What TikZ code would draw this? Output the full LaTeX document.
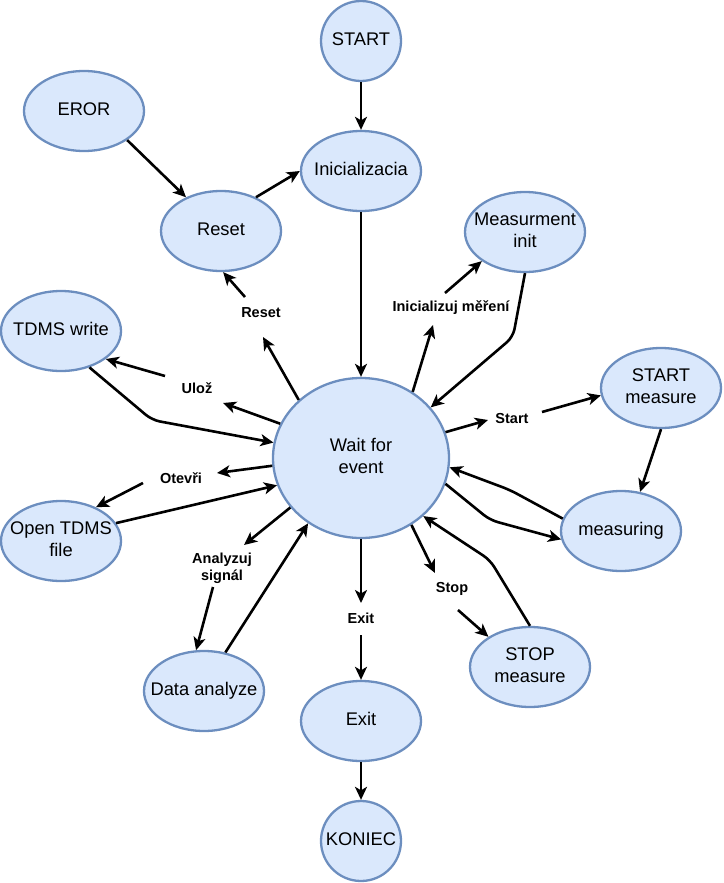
\documentclass[tikz,border=0pt]{standalone}
\usepackage{fontspec}
\setmainfont{Liberation Sans}
\usetikzlibrary{arrows.meta,shapes.geometric}
\definecolor{nfill}{HTML}{DAE8FC}
\definecolor{ndraw}{HTML}{6C8EBF}
\newcommand\sttext[1]{\makebox[0pt]{\begin{tabular}{@{}c@{}}#1\end{tabular}}}
\tikzset{
 st/.style={ellipse, draw=ndraw, fill=nfill, line width=2.3pt, minimum width=120pt, minimum height=80pt, inner sep=0pt, font=\fontsize{18.3}{22.5}\selectfont},
 lbl/.style={inner sep=0pt, font=\bfseries\fontsize{14.5}{17}\selectfont, align=center},
 conn/.style={line width=2.6pt, -{Stealth[length=13pt,width=12pt,inset=3.5pt]}, rounded corners=8pt},
}
\begin{document}
\begin{tikzpicture}[x=1pt,y=-1pt]
\useasboundingbox (0,0) rectangle (723,883);
% state nodes
\node[st, minimum width=80pt] (start) at (361,41) {\sttext{START}};
\node[st] (eror) at (84,111) {\sttext{EROR}};
\node[st] (reset) at (221,231) {\sttext{Reset}};
\node[st] (init) at (361,171) {\sttext{Inicializacia}};
\node[st] (tdms) at (61,331) {\sttext{TDMS write}};
\node[st, minimum width=176pt, minimum height=160pt] (wait) at (361,458) {\sttext{Wait for\\event}};
\node[st] (open) at (61,541) {\sttext{Open TDMS\\file}};
\node[st] (minit) at (525,232) {\sttext{Measurment\\init}};
\node[st] (smeas) at (661,388) {\sttext{START\\measure}};
\node[st] (meas) at (621,531) {\sttext{measuring}};
\node[st] (stop) at (530,667) {\sttext{STOP\\measure}};
\node[st] (data) at (204,691) {\sttext{Data analyze}};
\node[st] (exit) at (361,721) {\sttext{Exit}};
\node[st, minimum width=80pt] (koniec) at (361,841) {\sttext{KONIEC}};
% label nodes
\node[lbl] (lreset) at (261,313) {Reset};
\node[lbl] (linit) at (451,308) {Inicializuj měření};
\node[lbl] (luloz) at (197,388) {Ulož};
\node[lbl] (lotev) at (181,478) {Otevři};
\node[lbl] (lstart) at (512,419) {Start};
\node[lbl] (lstop) at (452,589) {Stop};
\node[lbl] (lexit) at (361,618) {Exit};
\node[lbl] (lanal) at (222,568) {Analyzuj\\signál};
% bend points
\coordinate (c1) at (513,337);
\coordinate (c2) at (152,420);
\coordinate (c3) at (510,490);
\coordinate (c4) at (490,520);
\coordinate (c5) at (490,560);
% connectors
\draw[conn] (start) -- (init);
\draw[conn] (eror.-34) -- (reset.136);
\draw[conn] (reset.44) -- (init.180);
\draw[conn] (init) -- (wait);
\draw[conn] (wait.137) -- ([shift={(2,24)}]lreset.center);
\draw[conn] ([shift={(-16,-16)}]lreset.center) -- (reset.-87);
\draw[conn] (wait.52) -- ([shift={(-18,17)}]linit.center);
\draw[conn] ([shift={(-6,-15)}]linit.center) -- (minit.214);
\draw[conn] (minit.south) -- (c1) -- (wait.36);
\draw[conn] (wait.157) -- ([shift={(26,15)}]luloz.center);
\draw[conn] ([shift={(-32,-12)}]luloz.center) -- (tdms.-32);
\draw[conn] (tdms.-52) -- (c2) -- (wait.170);
\draw[conn] (wait.185) -- ([shift={(36,-5)}]lotev.center);
\draw[conn] ([shift={(-38,5)}]lotev.center) -- (open.44);
\draw[conn] (open.18) -- (wait.198);
\draw[conn] (wait.17) -- ([shift={(-24,1)}]lstart.center);
\draw[conn] ([shift={(30,-7)}]lstart.center) -- (smeas.187);
\draw[conn] (smeas.south) -- (meas.64);
\draw[conn] (meas.168) -- (c3) -- (wait.-6);
\draw[conn] (wait.-17) -- (c4) -- (meas.188);
\draw[conn] (wait.-53) -- ([shift={(-17,-16)}]lstop.center);
\draw[conn] ([shift={(6,21)}]lstop.center) -- (stop.144);
\draw[conn] (stop.north) -- (c5) -- (wait.-43);
\draw[conn] (wait.south) -- ([shift={(0,-15)}]lexit.center);
\draw[conn] ([shift={(0,17)}]lexit.center) -- (exit.north);
\draw[conn] (exit) -- (koniec);
\draw[conn] (wait.215) -- ([shift={(22,-23)}]lanal.center);
\draw[conn] ([shift={(-9,19)}]lanal.center) -- (data.101);
\draw[conn] (data.61) -- (wait.231);
\end{tikzpicture}
\end{document}
